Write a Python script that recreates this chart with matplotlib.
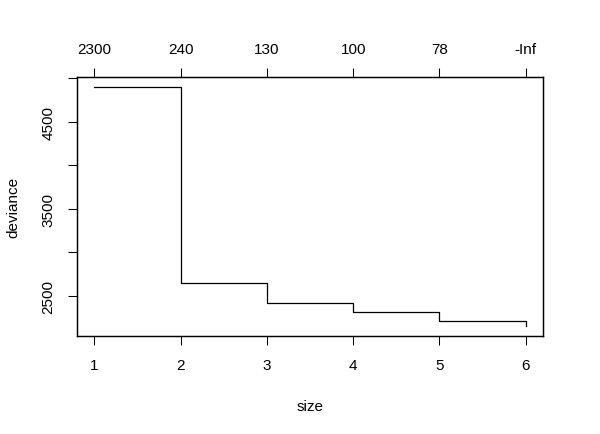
import matplotlib
matplotlib.use('Agg')
import matplotlib.pyplot as plt
import numpy as np

# cv.tree style pruning plot
size = [1, 2, 3, 4, 5, 6]
deviance = [4905, 2649, 2423, 2316, 2213, 2150]
k_labels = ['2300', '240', '130', '100', '78', '-Inf']
y_ticks = [2500, 3000, 3500, 4000, 4500, 5000]
y_ticklabels = ['2500', '', '3500', '', '4500', '']

plt.rcParams['font.family'] = ['Liberation Sans', 'DejaVu Sans']
plt.rcParams['font.size'] = 11

fig = plt.figure(figsize=(6, 4.35), dpi=100, facecolor='white')
ax = fig.add_axes([77/600, 1-337/435, 466/600, 259/435])

ax.step(size, deviance, where='post', color='black', lw=0.9)

ax.set_xlim(0.8, 6.2)
ax.set_ylim(2040, 5015)

ax.set_xticks(size)
ax.set_xticklabels([str(s) for s in size])
ax.set_yticks(y_ticks)
ax.set_yticklabels(y_ticklabels, rotation=90, va='center')

ax.tick_params(direction='out', length=6.5, width=0.75, color='black')
ax.tick_params(axis='x', pad=9.5)
ax.tick_params(axis='y', pad=9)
for sp in ax.spines.values():
    sp.set_linewidth(0.9)

ax.set_xlabel('size', va='center')
ax.set_ylabel('deviance', va='center')
ax.xaxis.set_label_coords(0.5, -0.27)
ax.yaxis.set_label_coords(-0.137, 0.5)

ax2 = ax.twiny()
ax2.set_xlim(ax.get_xlim())
ax2.set_xticks(size)
ax2.set_xticklabels(k_labels)
ax2.tick_params(direction='out', length=6.5, width=0.75, pad=8.5)
for sp in ax2.spines.values():
    sp.set_linewidth(0.9)

fig.savefig('out.png', dpi=100, facecolor='white')
